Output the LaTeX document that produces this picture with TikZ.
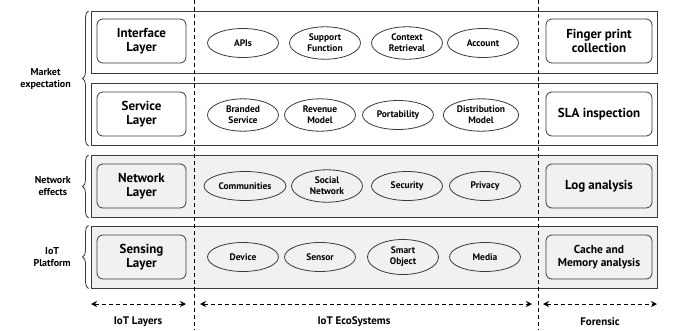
\documentclass[tikz,border=0pt]{standalone}
\usepackage{fontspec}
\setmainfont{PT Sans}
\usetikzlibrary{positioning}
\usetikzlibrary{shapes.geometric}
\usetikzlibrary{decorations.pathreplacing}
\usetikzlibrary{arrows.meta}

\definecolor{linegray}{HTML}{3A3A3A}
\definecolor{rowgray}{HTML}{F1F1F1}

\begin{document}
\begin{tikzpicture}[x=1pt,y=-1pt,
  layerrow/.style={draw=linegray,line width=1pt,minimum width=566pt,minimum height=62pt,inner sep=0pt},
  layerbox/.style={draw=linegray,rounded corners=6pt,line width=0.8pt,minimum width=89pt,minimum height=44pt,inner sep=2pt,align=center,font=\fontsize{13}{14.5}\selectfont\bfseries},
  forbox/.style={layerbox,minimum width=106pt},
  eco/.style={draw=linegray,ellipse,line width=0.8pt,minimum width=71pt,minimum height=29pt,inner sep=2.5pt,align=center,font=\fontsize{9.5}{11}\selectfont\bfseries},
  sidelabel/.style={align=center,font=\fontsize{10}{12}\selectfont\bfseries},
  footlabel/.style={font=\fontsize{11}{12}\selectfont\bfseries},
  brc/.style={decorate,decoration={brace,amplitude=6pt},line width=0.8pt,draw=linegray},
  spanarrow/.style={dash pattern=on 4pt off 3pt,{Stealth[length=6pt,width=6pt]}-{Stealth[length=6pt,width=6pt]},line width=0.9pt},
  divider/.style={dash pattern=on 4pt off 3pt,line width=1pt}]
\useasboundingbox (0,0) rectangle (675,330);

% rows
\node[layerrow] (r1) at (374,42.5) {};
\node[layerrow] (r2) at (374,114.5) {};
\node[layerrow,fill=rowgray] (r3) at (374,186.5) {};
\node[layerrow,fill=rowgray] (r4) at (374,257) {};

% dividers
\coordinate (d1t) at (194,0);
\coordinate (d1b) at (194,330);
\coordinate (d2t) at (538,0);
\coordinate (d2b) at (538,330);
\draw[divider] (d1t) -- (d1b);
\draw[divider] (d2t) -- (d2b);

% IoT layers
\node[layerbox] (l1) at (141.5,41) {Interface\\Layer};
\node[layerbox] (l2) at (141.5,114) {Service\\Layer};
\node[layerbox] (l3) at (141.5,186) {Network\\Layer};
\node[layerbox] (l4) at (141.5,257) {Sensing\\Layer};

% ecosystems
\node[eco] (e11) at (243,43) {APIs};
\node[eco] (e12) at (325,43) {Support\\Function};
\node[eco] (e13) at (407,43) {Context\\Retrieval};
\node[eco] (e14) at (483,43) {Account};

\node[eco] (e21) at (243,115) {Branded\\Service};
\node[eco] (e22) at (320,115) {Revenue\\Model};
\node[eco] (e23) at (398,115) {Portability};
\node[eco] (e24) at (481,115) {Distribution\\Model};

\node[eco] (e31) at (245,186) {Communities};
\node[eco] (e32) at (327,186) {Social\\Network};
\node[eco] (e33) at (407,186) {Security};
\node[eco] (e34) at (485,186) {Privacy};

\node[eco] (e41) at (243,257) {Device};
\node[eco] (e42) at (320,257) {Sensor};
\node[eco] (e43) at (403,257) {Smart\\Object};
\node[eco] (e44) at (485,257) {Media};

% forensic
\node[forbox] (f1) at (599,41) {Finger print\\collection};
\node[forbox] (f2) at (599,114) {SLA inspection};
\node[forbox] (f3) at (599,186) {Log analysis};
\node[forbox,font=\fontsize{11.5}{13.5}\selectfont\bfseries] (f4) at (599,257) {Cache and\\Memory analysis};

% braces
\draw[brc] ([xshift=-2pt]r2.south west) -- ([xshift=-2pt]r1.north west)
  node[midway,left=14pt,sidelabel] (s1) {Market\\expectation};
\draw[brc] ([xshift=-2pt]r3.south west) -- ([xshift=-2pt]r3.north west)
  node[midway,left=14pt,sidelabel] (s2) {Network\\effects};
\draw[brc] ([xshift=-2pt]r4.south west) -- ([xshift=-2pt]r4.north west)
  node[midway,left=14pt,sidelabel] (s3) {IoT\\Platform};

% spans
\coordinate (a1) at (91,304);
\coordinate (a2) at (186,304);
\coordinate (a3) at (200,304);
\coordinate (a4) at (532,304);
\coordinate (a5) at (543,304);
\coordinate (a6) at (657,304);
\draw[spanarrow] (a1) -- (a2);
\draw[spanarrow] (a3) -- (a4);
\draw[spanarrow] (a5) -- (a6);
\node[footlabel] (t1) at (138,322) {IoT Layers};
\node[footlabel] (t2) at (354,322) {IoT EcoSystems};
\node[footlabel] (t3) at (600,322) {Forensic};
\end{tikzpicture}
\end{document}
